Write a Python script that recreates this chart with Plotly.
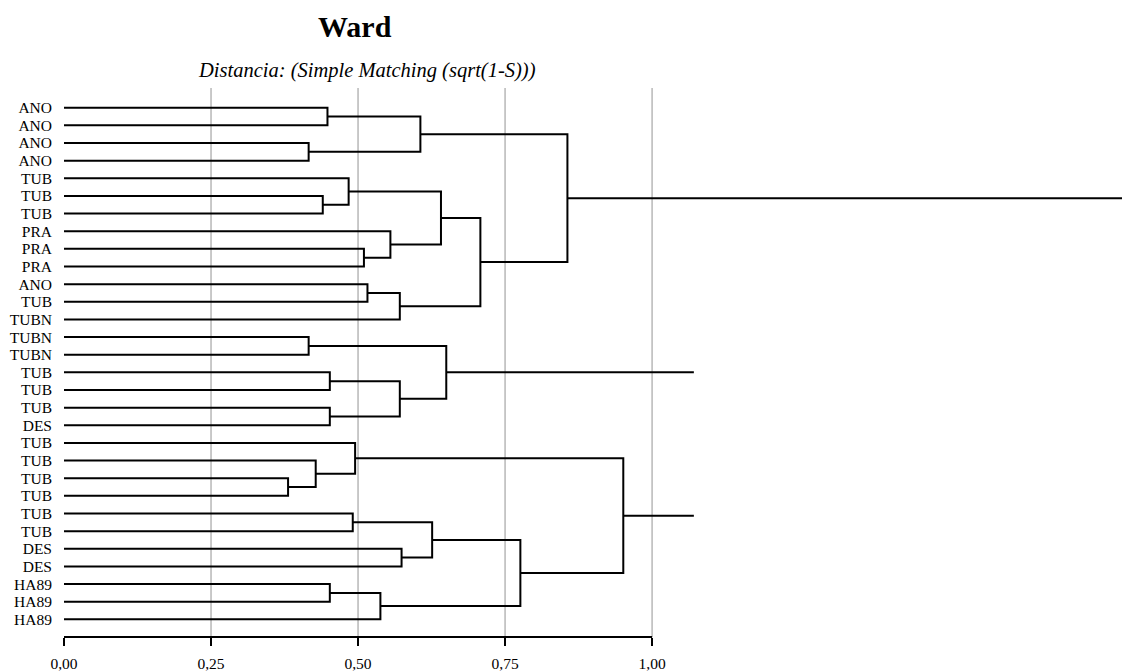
import plotly.graph_objects as go

# ---------------- data ----------------
leaf_labels = ["ANO", "ANO", "ANO", "ANO", "TUB", "TUB", "TUB", "PRA", "PRA", "PRA",
               "ANO", "TUB", "TUBN", "TUBN", "TUBN", "TUB", "TUB", "TUB", "DES",
               "TUB", "TUB", "TUB", "TUB", "TUB", "TUB", "DES", "DES",
               "HA89", "HA89", "HA89"]

# merges: index < 30 -> leaf, index >= 30 -> earlier merge (30 + k)
merge_left = [0, 2, 30, 5, 4, 8, 7, 34, 10, 38, 37, 32,
              13, 15, 17, 43, 42,
              21, 20, 19, 23, 25, 50, 27, 53, 52, 49]
merge_right = [1, 3, 31, 6, 33, 9, 35, 36, 11, 12, 39, 40,
               14, 16, 18, 44, 45,
               22, 47, 48, 24, 26, 51, 28, 29, 54, 55]
merge_height = [0.448, 0.416, 0.606, 0.440, 0.484, 0.510, 0.555, 0.641, 0.516, 0.571, 0.708, 0.856,
                0.416, 0.452, 0.452, 0.571, 0.650,
                0.381, 0.428, 0.495, 0.491, 0.574, 0.626, 0.452, 0.538, 0.776, 0.951]

root_nodes = [41, 46, 56]
root_tail = [1.80, 1.071, 1.071]

x_ticks = [0.0, 0.25, 0.50, 0.75, 1.00]
x_tick_text = ["0,00", "0,25", "0,50", "0,75", "1,00"]

title_text = "Ward"
subtitle_text = "Distancia: (Simple Matching (sqrt(1-S)))"

# ---------------- build dendrogram paths ----------------
n = len(leaf_labels)
node_y = list(range(n))
node_h = [0.0] * n
xs, ys = [], []
for a, b, h in zip(merge_left, merge_right, merge_height):
    ya, yb = node_y[a], node_y[b]
    xs += [node_h[a], h, h, node_h[b], None]
    ys += [ya, ya, yb, yb, None]
    node_y.append((ya + yb) / 2.0)
    node_h.append(h)
for node, tail in zip(root_nodes, root_tail):
    xs += [node_h[node], tail, None]
    ys += [node_y[node], node_y[node], None]

FONT = "Liberation Serif, Times New Roman, serif"

fig = go.Figure()
fig.add_trace(go.Scatter(x=xs, y=ys, mode="lines",
                         line=dict(color="black", width=2),
                         hoverinfo="skip", showlegend=False))

shapes = []
for t in x_ticks[1:]:
    shapes.append(dict(type="line", xref="x", yref="paper", x0=t, x1=t, y0=0, y1=1,
                       line=dict(color="#c0c0c0", width=1.7), layer="below"))
shapes.append(dict(type="line", xref="x", yref="paper", x0=x_ticks[0], x1=x_ticks[-1],
                   y0=0, y1=0, line=dict(color="black", width=2), layer="above"))

fig.update_layout(
    width=1122, height=671,
    margin=dict(l=64, r=0, t=88, b=34),
    paper_bgcolor="white", plot_bgcolor="white",
    font=dict(family=FONT, color="black", size=15),
    shapes=shapes,
    showlegend=False,
    annotations=[
        dict(text="<b>" + title_text + "</b>", xref="paper", yref="paper",
             x=0.275, y=1.112, xanchor="center", yanchor="middle", showarrow=False,
             font=dict(family=FONT, size=30, color="black")),
        dict(text="<i>" + subtitle_text + "</i>", xref="paper", yref="paper",
             x=0.2864, y=1.031, xanchor="center", yanchor="middle", showarrow=False,
             font=dict(family=FONT, size=20.5, color="black")),
    ],
)
fig.update_xaxes(range=[0, 1.799], tickvals=x_ticks, ticktext=x_tick_text,
                 ticks="outside", ticklen=8, tickwidth=2, tickcolor="black",
                 showgrid=False, zeroline=False, showline=False,
                 ticklabelstandoff=4,
                 tickfont=dict(family=FONT, size=15.5, color="black"))
fig.update_yaxes(range=[30.0, -1.117], tickvals=list(range(n)), ticktext=leaf_labels,
                 ticks="", showgrid=False, zeroline=False, showline=False,
                 ticklabelstandoff=11,
                 tickfont=dict(family=FONT, size=15.5, color="black"))

fig.write_html("out.html")
